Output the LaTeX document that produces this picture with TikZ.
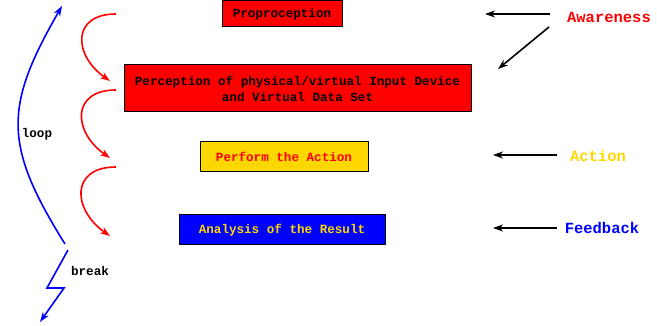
\documentclass[tikz,border=0pt]{standalone}
\usepackage{fontspec}
\usetikzlibrary{arrows.meta}
\setmonofont{Liberation Mono}
\definecolor{gold}{RGB}{255,215,0}

\begin{document}
\begin{tikzpicture}[x=1pt, y=1pt, font=\ttfamily\bfseries\fontsize{12.6}{16}\selectfont,
        conn/.style={line width=1.6pt, ->, >={Stealth[length=10pt, width=7pt, inset=3pt]}}]
    \useasboundingbox (0,0) rectangle (657,326);
    \begin{scope}[every node/.style={draw, line width=1pt, inner sep=0, minimum height=26, align=center}]
                        \node [fill=red, minimum width=120] (prop) at (282,312) {Proproception};
                        \node [fill=red, minimum width=347, minimum height=47] (perc) at (297.5,237.5) {Perception of physical/virtual Input Device\\and Virtual Data Set};
                        \node [fill=gold, text=red, minimum width=168, minimum height=30] (act) at (284,169) {Perform the Action};
                        \node [fill=blue, text=gold, minimum width=206, minimum height=30] (res) at (282,96) {Analysis of the Result};
                \end{scope}

                \begin{scope}[every node/.style={inner sep=0, font=\ttfamily\bfseries\fontsize{15.5}{18}\selectfont}]
                        \node [text=red] (aware) at (609,309) {Awareness};
                        \node [text=gold] (action) at (598,170) {Action};
                        \node [text=blue] (feed) at (602,98) {Feedback};
                \end{scope}
                \node [inner sep=0] (loop) at (37,192) {loop};
                \node [inner sep=0] (brk) at (90,55) {break};

                % free ends of the connectors
                \coordinate (aw1) at (550,312);
                \coordinate (aw1e) at (485,312);
                \coordinate (aw2) at (549,299);
                \coordinate (aw2e) at (498,257);
                \coordinate (ac1) at (557,171);
                \coordinate (ac1e) at (493,171);
                \coordinate (fb1) at (557,98);
                \coordinate (fb1e) at (493,98);
                \coordinate (r1) at (116,312);
                \coordinate (r1e) at (110,245);
                \coordinate (r2) at (116,236);
                \coordinate (r2e) at (110,168);
                \coordinate (r3) at (116,159);
                \coordinate (r3e) at (110,90);
                \coordinate (l0) at (65,82);
                \coordinate (l1) at (62,320);
                \coordinate (b0) at (68,76);
                \coordinate (b1) at (47,38);
                \coordinate (b2) at (64,38);
                \coordinate (b3) at (40,4);

                \draw [conn] (aw1) -- (aw1e);
                \draw [conn] (aw2) -- (aw2e);
                \draw [conn] (ac1) -- (ac1e);
                \draw [conn] (fb1) -- (fb1e);
                \draw [conn, red] (r1) to [out=180, in=145, looseness=1.7] (r1e);
                \draw [conn, red] (r2) to [out=180, in=145, looseness=1.7] (r2e);
                \draw [conn, red] (r3) to [out=180, in=145, looseness=1.7] (r3e);
                \draw [conn, blue] (l0) to [out=122, in=240, looseness=1.25] (l1);
                \draw [conn, blue] (b0) -- (b1) -- (b2) -- (b3);
\end{tikzpicture}
\end{document}
